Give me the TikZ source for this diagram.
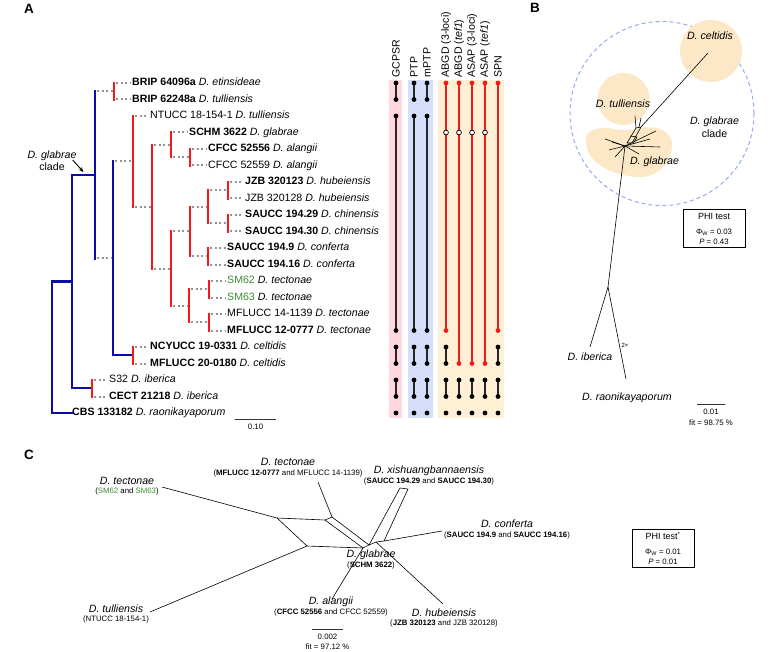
\documentclass[tikz,border=0pt]{standalone}
\usepackage{fontspec}
\setmainfont{Liberation Sans}
\usetikzlibrary{arrows.meta}

\definecolor{treeblue}{RGB}{12,12,170}
\definecolor{treered}{RGB}{245,25,25}
\definecolor{smgreen}{RGB}{60,140,50}
\definecolor{pinkbg}{RGB}{255,214,222}
\definecolor{bluebg}{RGB}{214,222,250}
\definecolor{orangebg}{RGB}{255,240,213}
\definecolor{blobfill}{RGB}{252,232,198}
\definecolor{ringblue}{RGB}{150,170,240}

\tikzset{
  lab/.style={font=\fontsize{10.6}{12}\selectfont},
  labsmall/.style={font=\fontsize{7.8}{9}\selectfont},
  labmini/.style={font=\fontsize{6}{7}\selectfont},
  labphi/.style={font=\fontsize{9}{10}\selectfont},
  panel/.style={font=\fontsize{13.5}{15}\selectfont\bfseries},
  tip/.style={lab, anchor=west, text height=7.6pt, text depth=2.2pt},
  bluebar/.style={treeblue, line width=2.4pt, line cap=rect},
  redbar/.style={treered, line width=2.4pt, line cap=rect},
  twig/.style={gray!85, line width=2pt, dash pattern=on 2pt off 2.6pt, shorten <=2pt, shorten >=1.5pt},
  seg/.style={black!85, line width=1.4pt},
  redseg/.style={treered, line width=1.4pt},
  net/.style={black, line width=0.6pt, line join=round},
  phibox/.style={draw, line width=0.7pt, minimum width=62pt, minimum height=38pt},
}

\begin{document}
\begin{tikzpicture}[x=1pt, y=-1pt, >=Stealth, every node/.style={inner sep=0pt}]
  \useasboundingbox (0,0) rectangle (778,652);

  % 1. panel letters
  \node[panel] (pA) at (29,9) {A};
  \node[panel] (pB) at (535,8) {B};
  \node[panel] (pC) at (29,455) {C};

  % 2. tip labels of tree A
  \node[tip] (t1)  at (132,83)    {\textbf{BRIP 64096a} \textit{D. etinsideae}};
  \node[tip] (t2)  at (132,99.5)  {\textbf{BRIP 62248a} \textit{D. tulliensis}};
  \node[tip] (t3)  at (150,116)   {NTUCC 18-154-1 \textit{D. tulliensis}};
  \node[tip] (t4)  at (189,132.5) {\textbf{SCHM 3622} \textit{D. glabrae}};
  \node[tip] (t5)  at (208,149)   {\textbf{CFCC 52556} \textit{D. alangii}};
  \node[tip] (t6)  at (208,165.5) {CFCC 52559 \textit{D. alangii}};
  \node[tip] (t7)  at (245,182)   {\textbf{JZB 320123} \textit{D. hubeiensis}};
  \node[tip] (t8)  at (245,198.5) {JZB 320128 \textit{D. hubeiensis}};
  \node[tip] (t9)  at (245,215)   {\textbf{SAUCC 194.29} \textit{D. chinensis}};
  \node[tip] (t10) at (245,231.5) {\textbf{SAUCC 194.30} \textit{D. chinensis}};
  \node[tip] (t11) at (227,248)   {\textbf{SAUCC 194.9} \textit{D. conferta}};
  \node[tip] (t12) at (227,264.5) {\textbf{SAUCC 194.16} \textit{D. conferta}};
  \node[tip] (t13) at (227,281)   {\textcolor{smgreen}{SM62} \textit{D. tectonae}};
  \node[tip] (t14) at (227,297.5) {\textcolor{smgreen}{SM63} \textit{D. tectonae}};
  \node[tip] (t15) at (227,314)   {MFLUCC 14-1139 \textit{D. tectonae}};
  \node[tip] (t16) at (227,330.5) {\textbf{MFLUCC 12-0777} \textit{D. tectonae}};
  \node[tip] (t17) at (150,347)   {\textbf{NCYUCC 19-0331} \textit{D. celtidis}};
  \node[tip] (t18) at (150,363.5) {\textbf{MFLUCC 20-0180} \textit{D. celtidis}};
  \node[tip] (t19) at (109,380)   {S32 \textit{D. iberica}};
  \node[tip] (t20) at (109,396.5) {\textbf{CECT 21218} \textit{D. iberica}};
  \node[tip] (t21) at (72,413)    {\textbf{CBS 133182} \textit{D. raonikayaporum}};

  % 3. inner nodes (x = depth, y = middle of children)
  \coordinate (p1) at (114,91.25);
  \coordinate (p2) at (190,157.25);
  \coordinate (p3) at (228,190.25);
  \coordinate (p4) at (228,223.25);
  \coordinate (p5) at (208,256.25);
  \coordinate (p6) at (209,289.25);
  \coordinate (p7) at (209,322.25);
  \coordinate (p8) at (133,355.25);
  \coordinate (p9) at (92,388.25);
  \coordinate (n6) at (208,206.75);
  \coordinate (n5) at (190,231.5);
  \coordinate (n7) at (189,305.75);
  \coordinate (n4) at (171,268.6);
  \coordinate (n3) at (171,144.9);
  \coordinate (n2) at (152,206.75);
  \coordinate (n1) at (133,161.4);
  \coordinate (b2) at (113,258.3);
  \coordinate (b1) at (95,174.8);
  \coordinate (b0) at (72,281.5);
  \coordinate (rt) at (52,347.25);

  % 4. blue backbone
  \draw[bluebar] (p8) -- (b2 |- p8) -- (b2 |- n1);
  \draw[bluebar] (b1 |- p1) -- (b1 |- b2);
  \draw[bluebar] (b1) -- (b0 |- b1) -- (b0 |- p9) -- (p9);
  \draw[bluebar] (b0) -- (rt |- b0) -- (rt |- t21) -- (t21.west);
  \draw[twig] (b2 |- n1) -- (n1);
  \draw[twig] (b1 |- p1) -- (p1);
  \draw[twig] (b1 |- b2) -- (b2);

  % 5. red clades
  \foreach \p/\a/\b in {n6/p3/p4, n5/n6/p5, n7/p6/p7, n4/n5/n7, n3/t4/p2, n2/n3/n4, n1/t3/n2,
      p1/t1/t2, p2/t5/t6, p3/t7/t8, p4/t9/t10, p5/t11/t12, p6/t13/t14, p7/t15/t16, p8/t17/t18, p9/t19/t20}
  {
    \draw[twig] (\p |- \a) -- (\a);
    \draw[twig] (\p |- \b) -- (\b);
    \draw[redbar] (\p |- \a) -- (\p |- \b);
  }

  % clade label and scale bar
  \node[lab, align=center] (gcl) at (52,161) {\textit{D. glabrae}\\clade};
  \coordinate (gclTip) at (83.5,172);
  \draw[-{Stealth[length=5pt, width=4pt]}, line width=0.9pt] ([xshift=-4pt, yshift=1pt]gcl.east) -- (gclTip);
  \coordinate (sbA1) at (235,419);
  \coordinate (sbA2) at (276,419);
  \draw[gray!40!black, line width=0.6pt] (sbA1) -- (sbA2);
  \node[labsmall] (sbAt) at (255.5,427) {0.10};

  % 6. delimitation columns
  \fill[pinkbg] (389,80) rectangle (402,418);
  \fill[bluebg] (408,80) rectangle (433,418);
  \fill[orangebg] (438,80) rectangle (504,418);
  \foreach \cx/\txt [count=\i] in {396/GCPSR, 414/PTP, 427/mPTP, 446/ABGD (3-loci), 459/ABGD (\textit{tef1}),
      472/ASAP (3-loci), 485/ASAP (\textit{tef1}), 498/SPN}
    \node[lab, rotate=90, anchor=west] (h\i) at (\cx,77.5) {\txt};

  \foreach \cx in {396,414,427} {
    \foreach \ya/\yb in {83/99.5, 116/330.5, 347/363.5, 380/396.5} {
      \draw[seg] (\cx,\ya) -- (\cx,\yb);
      \fill (\cx,\ya) circle (2.4pt) (\cx,\yb) circle (2.4pt);
    }
  }
  \foreach \cx/\yb in {446/330.5, 459/363.5, 472/363.5, 485/363.5, 498/330.5} {
    \draw[redseg] (\cx,83) -- (\cx,\yb);
    \fill[treered] (\cx,83) circle (2.4pt) (\cx,\yb) circle (2.4pt);
  }
  \foreach \cx in {446,498} {
    \draw[seg] (\cx,347) -- (\cx,363.5);
    \fill (\cx,347) circle (2.4pt) (\cx,363.5) circle (2.4pt);
  }
  \foreach \cx in {446,459,472,485,498} {
    \draw[seg] (\cx,380) -- (\cx,396.5);
    \fill (\cx,380) circle (2.4pt) (\cx,396.5) circle (2.4pt);
  }
  \foreach \cx in {396,414,427,446,459,472,485,498}
    \fill (\cx,413) circle (2.4pt);
  \foreach \cx in {446,459,472,485}
    \filldraw[fill=white, draw=black, line width=0.7pt] (\cx,132.5) circle (2.4pt);

  % 7. network B: groups
  \draw[ringblue, line width=1pt, dash pattern=on 4pt off 3pt] (662,113.5) circle (92pt);
  \fill[blobfill] (711,51) circle (31pt);
  \fill[blobfill] (623.5,99) circle (26pt);
  \fill[blobfill] (586,143) .. controls (584,130) and (598,127) .. (608,128)
      .. controls (618,130) and (630,131) .. (640,128)
      .. controls (655,125) and (672,130) .. (672,145)
      .. controls (672,165) and (655,178) .. (638,177)
      .. controls (615,176) and (588,165) .. (586,143) -- cycle;

  % network B: splits
  \coordinate (bc) at (625,146);
  \coordinate (bj) at (608,287);
  \draw[net] (641,127) -- (708,53);
  \draw[net] (636,128) -- (641,127) -- (632,143) -- (627,143) -- cycle;
  \draw[net] (630,136) -- (637,137) -- (633,144);
  \draw[net] (636,128) -- (635,116);
  \draw[net] (639,127) -- (641,118);
  \foreach \ex/\ey in {605/139, 609/150, 615/157, 656/131, 660/147, 639/154, 612/142, 650/139}
    \draw[net] (bc) -- (\ex,\ey);
  \draw[net] (bc) -- (bj) -- (590,347);
  \draw[net] (bj) -- (626,379);

  % network B: labels
  \node[lab] (bCel) at (710,36) {\textit{D. celtidis}};
  \node[lab] (bTul) at (623,104) {\textit{D. tulliensis}};
  \node[lab] (bGla) at (654.5,162) {\textit{D. glabrae}};
  \node[lab] (bClade) at (714.5,122) {\textit{D. glabrae}};
  \node[lab] (bClade2) at (714.5,134) {clade};
  \node[lab] (bIbe) at (590,357) {\textit{D. iberica}};
  \node[lab] (bRao) at (627,398) {\textit{D. raonikayaporum}};
  \node[labmini] (bTwo) at (625,345) {2×};
  \node[phibox] (phiB) at (714,228) {};
  \node[labphi] (phiBt) at (714,216) {PHI test};
  \node[labsmall] (phiBw) at (714,232) {Φ\textsubscript{W} = 0.03};
  \node[labsmall] (phiBp) at (714,242) {\textit{P} = 0.43};
  \coordinate (sbB1) at (697,404);
  \coordinate (sbB2) at (725,404);
  \draw[gray!40!black, line width=0.6pt] (sbB1) -- (sbB2);
  \node[labsmall] (sbBt) at (711,411.5) {0.01};
  \node[labsmall] (sbBf) at (711,422.5) {fit = 98.75 \%};

  % 8. network C: splits
  \coordinate (cA) at (277,518);
  \coordinate (cB) at (325,520);
  \coordinate (cB2) at (332,517);
  \coordinate (cC) at (307,546);
  \coordinate (cD) at (363,548);
  \coordinate (cE) at (369,545);
  \coordinate (cF) at (376,542);
  \coordinate (cG) at (384,541);
  \draw[net] (162,487) -- (cA) -- (cB) -- (cB2) -- (318,482);
  \draw[net] (cA) -- (cC) -- (150,612);
  \draw[net] (cC) -- (cD);
  \draw[net] (cB) -- (cD) -- (cE) -- (cB2);
  \draw[net] (cE) -- (cF) -- (cG);
  \draw[net] (cE) -- (400,488) -- (408,489) -- (cG);
  \draw[net] (cG) -- (442,531);
  \draw[net] (cF) -- (443,604);
  \draw[net] (cD) -- (332,599);

  % network C: labels
  \node[lab] (cTecSM) at (127,481) {\textit{D. tectonae}};
  \node[labsmall] (cTecSMid) at (127,491.5) {(\textcolor{smgreen}{SM62} and \textcolor{smgreen}{SM63})};
  \node[lab] (cTecMF) at (288,462) {\textit{D. tectonae}};
  \node[labsmall] (cTecMFid) at (288,473) {(\textbf{MFLUCC 12-0777} and MFLUCC 14-1139)};
  \node[lab] (cXis) at (429,471) {\textit{D. xishuangbannaensis}};
  \node[labsmall] (cXisid) at (429,481.5) {(\textbf{SAUCC 194.29} and \textbf{SAUCC 194.30})};
  \node[lab] (cCon) at (507,524) {\textit{D. conferta}};
  \node[labsmall] (cConid) at (507,535) {(\textbf{SAUCC 194.9} and \textbf{SAUCC 194.16})};
  \node[lab] (cGla) at (371,555) {\textit{D. glabrae}};
  \node[labsmall] (cGlaid) at (371,565.5) {(\textbf{SCHM 3622})};
  \node[lab] (cAla) at (331,602) {\textit{D. alangii}};
  \node[labsmall] (cAlaid) at (331,612.5) {(\textbf{CFCC 52556} and CFCC 52559)};
  \node[lab] (cHub) at (444,613) {\textit{D. hubeiensis}};
  \node[labsmall] (cHubid) at (444,623.5) {(\textbf{JZB 320123} and JZB 320128)};
  \node[lab] (cTul) at (116,609) {\textit{D. tulliensis}};
  \node[labsmall] (cTulid) at (116,619.5) {(NTUCC 18-154-1)};
  \node[phibox] (phiC) at (663,548) {};
  \node[labphi] (phiCt) at (663,536) {PHI test\textsuperscript{*}};
  \node[labsmall] (phiCw) at (663,552) {Φ\textsubscript{W} = 0.01};
  \node[labsmall] (phiCp) at (663,562) {\textit{P} = 0.01};
  \coordinate (sbC1) at (312,629);
  \coordinate (sbC2) at (343,629);
  \draw[gray!40!black, line width=0.6pt] (sbC1) -- (sbC2);
  \node[labsmall] (sbCt) at (327.5,636.5) {0.002};
  \node[labsmall] (sbCf) at (327.5,647) {fit = 97.12 \%};
\end{tikzpicture}
\end{document}
